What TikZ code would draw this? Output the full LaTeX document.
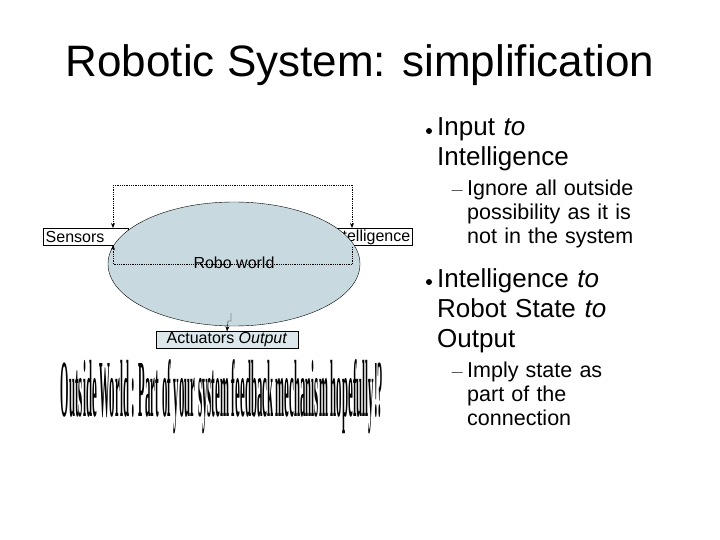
\documentclass[tikz,border=0pt]{standalone}
\usepackage{fontspec}
\setmainfont{Liberation Sans}
\newfontfamily\condfont{Liberation Serif}
\usetikzlibrary{arrows.meta,shapes.geometric}
\begin{document}
\begin{tikzpicture}[x=1pt,y=-1pt,
  box/.style={draw,fill=white,inner sep=1pt,font=\fontsize{16}{18}\selectfont},
  dot/.style={densely dotted,thick},
  arr/.style={-{Stealth[length=5pt,width=4pt]}},
  txt/.style={anchor=north west,align=left,inner sep=0pt},
  bul/.style={circle,fill,inner sep=0pt,minimum size=6pt},
  dsh/.style={draw,inner sep=0pt,minimum width=11pt,minimum height=0pt,line width=0.8pt}]
\useasboundingbox (0,0) rectangle (720,540);
\node (title) at (360,65) {\fontsize{44}{50}\selectfont Robotic System: simplification};
% boxes
\node[box,anchor=west,minimum width=85pt,minimum height=17pt,text width=80pt] (sens) at (43,237) {Sensors};
\node[box,anchor=east,minimum width=85pt,minimum height=17pt,align=right,text width=80pt] (intel) at (412,237) {Intelligence};
% ellipse
\node[draw,ellipse,fill={rgb,255:red,200;green,218;blue,224},minimum width=252pt,minimum height=124pt,inner sep=0pt] (world) at (234,264) {};
\node[font=\fontsize{16}{18}\selectfont] (rw) at (234,263) {Robo world};
% feedback lines
\coordinate (tl) at (113,185);
\coordinate (tr) at (352,185);
\coordinate (bl) at (113,264);
\coordinate (br) at (352,264);
\draw[dot] (tl) -- (tr);
\draw[dot,arr] (tl) -- (113,228);
\draw[dot,arr] (tr) -- (352,228);
\draw[dot] (br) -- (bl);
\draw[dot] (br) -- (352,247);
\draw[dot,arr] (bl) -- (113,245);
% actuators
\node[box,fill={rgb,255:red,220;green,232;blue,236},minimum width=142pt,minimum height=17pt] (act) at (227,340) {Actuators \textit{Output}};
\draw[arr] (231,313) -- (231,321) -- (228,321) -- (act.north);
% wordart
\node (wa) at (222,397) {\scalebox{0.36}[2.7]{\condfont\bfseries\fontsize{30}{30}\selectfont Outside World : Part of your system feedback mechanism hopefully!?}};
% bullets
\begin{scope}[font=\fontsize{26}{30}\selectfont]
\node[bul] (b1) at (429,131) {};
\node[txt,text width=260pt] (t1) at (437,117) {Input \textit{to}\\Intelligence};
\node[bul] (b2) at (429,282) {};
\node[txt,text width=260pt] (t2) at (437,268) {Intelligence \textit{to}\\Robot State \textit{to}\\Output};
\end{scope}
\begin{scope}[font=\fontsize{21.5}{24}\selectfont]
\node[dsh] (d1) at (457,190) {};
\node[txt,text width=250pt] (s1) at (467,180) {Ignore all outside\\possibility as it is\\not in the system};
\node[dsh] (d2) at (457,372) {};
\node[txt,text width=250pt] (s2) at (467,362) {Imply state as\\part of the\\connection};
\end{scope}
\end{tikzpicture}
\end{document}
